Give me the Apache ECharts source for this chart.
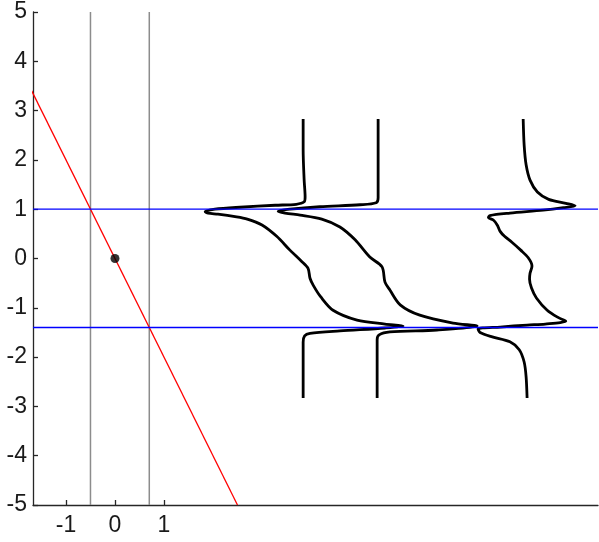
<!DOCTYPE html>
<html>
<head>
<meta charset="utf-8">
<script src="https://cdn.jsdelivr.net/npm/echarts@6/dist/echarts.min.js"></script>
<style>
  html, body { margin: 0; padding: 0; background: #fff; }
  #chart { width: 599px; height: 542px; }
</style>
</head>
<body>
<div id="chart"></div>
<script>
// axis ranges and ticks
var xMin = -1.673
var xMax = 9.857
var xTicks = [-1, 0, 1]

// straight lines
var redLine = [[-1.7, 3.4], [2.5, -5]]
var grayX = [-0.5, 0.7]
var blueY = [1, -1.4]
var dot = [[0, 0]]

// the three wavy curves, traced as [x, y]
var curve1 = [
  [3.84, 2.83], [3.84, 2.2], [3.86, 1.6], [3.88, 1.25], [3.86, 1.15], [3.70, 1.10],
  [3.27, 1.08], [2.55, 1.04], [2.04, 1.00], [1.84, 0.95], [1.90, 0.92], [2.10, 0.90],
  [2.45, 0.85], [2.70, 0.80], [3.00, 0.68], [3.30, 0.45], [3.57, 0.17], [3.80, -0.05],
  [3.94, -0.20], [3.98, -0.40], [4.05, -0.55], [4.20, -0.78], [4.45, -1.05], [4.94, -1.25],
  [5.51, -1.33], [5.88, -1.37], [5.51, -1.41], [4.59, -1.47], [3.98, -1.52], [3.87, -1.57],
  [3.84, -1.70], [3.84, -2.83]
]
var curve2 = [
  [5.37, 2.83], [5.37, 2.2], [5.37, 1.6], [5.37, 1.23], [5.33, 1.13], [5.00, 1.09],
  [4.18, 1.05], [3.57, 1.00], [3.33, 0.96], [3.47, 0.92], [3.78, 0.88], [4.22, 0.80],
  [4.59, 0.64], [4.90, 0.38], [5.20, 0.03], [5.45, -0.17], [5.51, -0.48], [5.61, -0.64],
  [5.82, -0.94], [6.22, -1.15], [6.90, -1.31], [7.39, -1.37], [6.57, -1.45], [5.61, -1.49],
  [5.39, -1.55], [5.35, -1.65], [5.35, -2.2], [5.35, -2.83]
]
var curve3 = [
  [8.33, 2.83], [8.35, 2.3], [8.39, 1.9], [8.47, 1.59], [8.62, 1.35], [8.85, 1.20],
  [9.20, 1.12], [9.39, 1.07], [9.15, 1.03], [8.74, 0.98], [8.06, 0.92], [7.65, 0.87],
  [7.62, 0.83], [7.72, 0.78], [7.80, 0.68], [7.86, 0.55], [7.95, 0.45], [8.10, 0.33],
  [8.28, 0.17], [8.43, 0.02], [8.51, -0.15], [8.47, -0.30], [8.46, -0.42], [8.50, -0.60],
  [8.60, -0.80], [8.82, -1.05], [9.05, -1.20], [9.20, -1.27], [8.78, -1.33], [8.41, -1.35],
  [7.86, -1.39], [7.41, -1.43], [7.45, -1.50], [7.70, -1.59], [8.06, -1.69], [8.25, -1.85],
  [8.35, -2.1], [8.39, -2.4], [8.41, -2.83]
]

var chart = echarts.init(document.getElementById('chart'))

var series = []
grayX.forEach(function (x) {
  series.push({
    type: 'line', data: [[x, -5], [x, 5]], symbol: 'none', silent: true,
    lineStyle: { color: '#8c8c8c', width: 1.5 }, z: 2
  })
})
series.push({
  type: 'line', data: redLine, symbol: 'none', silent: true,
  lineStyle: { color: '#ff0000', width: 1.3 }, z: 3
})
;[curve1, curve2, curve3].forEach(function (c) {
  series.push({
    type: 'line', data: c, symbol: 'none', smooth: 0.3, silent: true,
    lineStyle: { color: '#000', width: 2.8 }, z: 4
  })
})
blueY.forEach(function (y) {
  series.push({
    type: 'line', data: [[xMin, y], [xMax, y]], symbol: 'none', silent: true,
    lineStyle: { color: '#0000ff', width: 1.3 }, z: 5
  })
})
series.push({
  type: 'scatter', data: dot, symbolSize: 9, silent: true,
  itemStyle: { color: '#000' }, z: 6
})

chart.setOption({
  animation: false,
  backgroundColor: '#fff',
  grid: { left: 33, top: 12, right: 1, bottom: 37, containLabel: false },
  xAxis: {
    type: 'value', min: xMin, max: xMax,
    splitLine: { show: false },
    axisLine: { onZero: false, lineStyle: { color: '#262626', width: 1.3 } },
    axisTick: { inside: true, length: 5, customValues: xTicks, lineStyle: { color: '#262626', width: 1.3 } },
    axisLabel: {
      customValues: xTicks, margin: 9, color: '#1a1a1a', fontSize: 23,
      fontFamily: 'Liberation Sans',
      formatter: function (v) { return v < 0 ? '-' + (-v) : String(v) }
    }
  },
  yAxis: {
    type: 'value', min: -5, max: 5, interval: 1,
    splitLine: { show: false },
    axisLine: { show: true, onZero: false, lineStyle: { color: '#262626', width: 1.3 } },
    axisTick: { show: true, inside: true, length: 5, lineStyle: { color: '#262626', width: 1.3 } },
    axisLabel: {
      margin: 6, color: '#1a1a1a', fontSize: 23, fontFamily: 'Liberation Sans',
      formatter: function (v) { return v < 0 ? '-' + (-v) : String(v) }
    }
  },
  series: series
})
</script>
</body>
</html>
